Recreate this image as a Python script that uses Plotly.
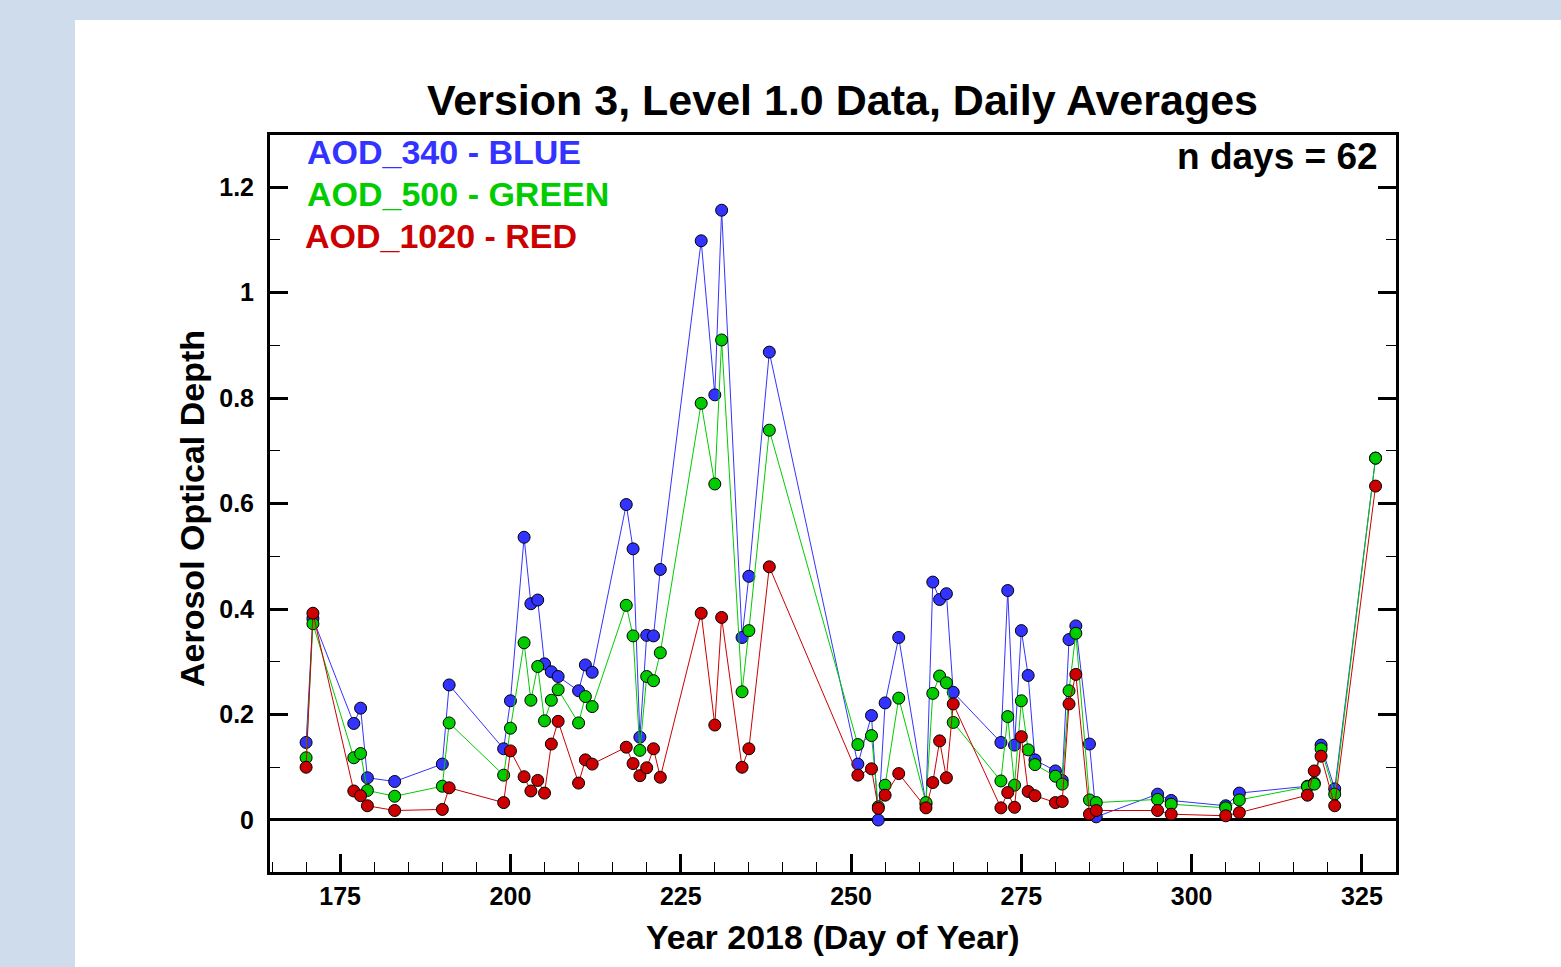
import plotly.graph_objects as go

days = [170, 171, 177, 178, 179, 183, 190, 191, 199, 200, 202, 203, 204, 205, 206, 207,
        210, 211, 212, 217, 218, 219, 220, 221, 222, 228, 230, 231, 234, 235, 238,
        251, 253, 254, 255, 257, 261, 262, 263, 264, 265, 272, 273, 274, 275, 276, 277,
        280, 281, 282, 283, 285, 286, 295, 297, 305, 307, 317, 318, 319, 321, 327]

aod_340 = [0.147, 0.382, 0.183, 0.212, 0.080, 0.073, 0.106, 0.256, 0.135, 0.226, 0.536, 0.410,
           0.417, 0.296, 0.281, 0.272, 0.245, 0.294, 0.280, 0.598, 0.514, 0.157, 0.350, 0.349,
           0.475, 1.098, 0.806, 1.156, 0.346, 0.462, 0.887, 0.106, 0.198, 0.000, 0.222, 0.346,
           0.030, 0.451, 0.418, 0.429, 0.242, 0.147, 0.435, 0.142, 0.359, 0.274, 0.114, 0.093,
           0.075, 0.342, 0.368, 0.144, 0.006, 0.049, 0.037, 0.027, 0.051, 0.064, 0.070, 0.142,
           0.059, 0.686]

aod_500 = [0.118, 0.372, 0.118, 0.126, 0.056, 0.045, 0.064, 0.184, 0.085, 0.174, 0.336, 0.227,
           0.291, 0.188, 0.227, 0.247, 0.184, 0.234, 0.215, 0.407, 0.349, 0.132, 0.272, 0.264,
           0.317, 0.790, 0.637, 0.910, 0.243, 0.359, 0.739, 0.143, 0.160, 0.025, 0.066, 0.231,
           0.033, 0.240, 0.273, 0.260, 0.185, 0.074, 0.196, 0.066, 0.226, 0.133, 0.105, 0.083,
           0.068, 0.245, 0.354, 0.038, 0.033, 0.039, 0.030, 0.023, 0.038, 0.063, 0.068, 0.135,
           0.049, 0.686]

aod_1020 = [0.100, 0.392, 0.055, 0.046, 0.027, 0.018, 0.020, 0.061, 0.033, 0.131, 0.082, 0.055,
            0.075, 0.051, 0.144, 0.187, 0.070, 0.114, 0.106, 0.138, 0.107, 0.084, 0.099, 0.135,
            0.081, 0.392, 0.180, 0.384, 0.100, 0.135, 0.480, 0.085, 0.097, 0.022, 0.047, 0.088,
            0.023, 0.071, 0.150, 0.080, 0.220, 0.023, 0.052, 0.024, 0.158, 0.054, 0.046, 0.033,
            0.035, 0.220, 0.276, 0.011, 0.018, 0.018, 0.011, 0.008, 0.014, 0.047, 0.093, 0.121,
            0.027, 0.633]

series = [
    ("AOD_340", aod_340, "#3333ff"),
    ("AOD_500", aod_500, "#00cc00"),
    ("AOD_1020", aod_1020, "#cc0000"),
]

W, H = 1561, 967
L, R, T, B = 270, 1396, 135, 872
pw, ph = R - L, B - T


def px(x):
    return (x - L) / pw


def py(y):
    return (B - y) / ph


FONT = "Liberation Sans, Arial, Helvetica, sans-serif"

fig = go.Figure()
for name, vals, col in series:
    fig.add_trace(go.Scatter(
        x=days, y=vals, mode="lines+markers", name=name,
        line=dict(color=col, width=1),
        marker=dict(size=12, color=col, line=dict(color="black", width=1)),
        showlegend=False,
    ))

fig.update_layout(
    width=W, height=H,
    margin=dict(l=L, r=W - R, t=T, b=H - B),
    paper_bgcolor="#cfdcec",
    plot_bgcolor="white",
    font=dict(family=FONT, color="black", size=25, weight="bold"),
    shapes=[dict(type="rect", xref="paper", yref="paper",
                 x0=px(75), x1=px(W + 5), y0=py(H + 5), y1=py(20),
                 fillcolor="white", line=dict(width=0), layer="below")],
)

fig.update_xaxes(
    range=[164.7, 330.0], tick0=0, dtick=25,
    showgrid=False, zeroline=False,
    showline=True, linecolor="black", linewidth=3, mirror=True,
    ticks="inside", ticklen=18, tickwidth=3, tickcolor="black",
    minor=dict(dtick=5, ticks="inside", ticklen=10, tickwidth=1, tickcolor="black", showgrid=False),
    tickfont=dict(family=FONT, size=25, color="black", weight="bold"),
)
fig.update_yaxes(
    range=[-0.0986, 1.2986], tick0=0, dtick=0.2,
    showgrid=False, zeroline=True, zerolinecolor="black", zerolinewidth=3,
    showline=True, linecolor="black", linewidth=3, mirror="allticks",
    ticks="inside", ticklen=18, tickwidth=3, tickcolor="black",
    minor=dict(dtick=0.1, ticks="inside", ticklen=10, tickwidth=1, tickcolor="black", showgrid=False),
    tickfont=dict(family=FONT, size=25, color="black", weight="bold"),
    ticklabelstandoff=8,
)

ann = [
    dict(text="Version 3, Level 1.0 Data, Daily Averages", x=px(842), y=py(100),
         xanchor="center", yanchor="middle", font=dict(size=43, color="black")),
    dict(text="AOD_340 - BLUE", x=px(305), y=py(152), xanchor="left", yanchor="middle",
         font=dict(size=34, color="#3333ff")),
    dict(text="AOD_500 - GREEN", x=px(305), y=py(194), xanchor="left", yanchor="middle",
         font=dict(size=34, color="#00cc00")),
    dict(text="AOD_1020 - RED", x=px(303), y=py(236), xanchor="left", yanchor="middle",
         font=dict(size=34, color="#cc0000")),
    dict(text="n days = 62", x=px(1380), y=py(157), xanchor="right", yanchor="middle",
         font=dict(size=37, color="black")),
    dict(text="Year 2018 (Day of Year)", x=px(833), y=py(937),
         xanchor="center", yanchor="middle", font=dict(size=34, color="black")),
    dict(text="Aerosol Optical Depth", x=px(192), y=py(509), textangle=-90,
         xanchor="center", yanchor="middle", font=dict(size=34, color="black")),
]
for a in ann:
    a.update(xref="paper", yref="paper", showarrow=False)
    a["font"].update(family=FONT, weight="bold")
fig.update_layout(annotations=ann)

fig.write_html("out.html")
